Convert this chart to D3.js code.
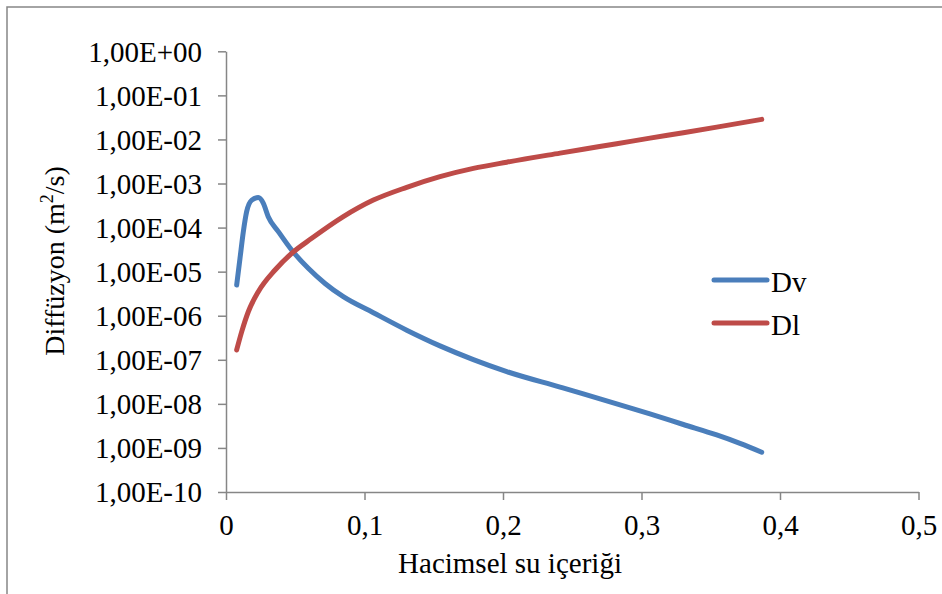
<!DOCTYPE html>
<html>
<head>
<meta charset="utf-8">
<script src="https://cdn.jsdelivr.net/npm/d3@7"></script>
<style>
  body { margin: 0; background: #fff; }
  text { font-family: "Liberation Serif", "Times New Roman", serif; fill: #000; }
</style>
</head>
<body>
<div id="chart-area"></div>
<script>
const SVG_WIDTH = 942;
const SVG_HEIGHT = 594;

// volumetric water content (x) and diffusion values (y)
const dvTheta = [0.0077, 0.0101, 0.0125, 0.0149, 0.0186, 0.0233, 0.0269, 0.0305, 0.0378, 0.0474, 0.0594, 0.0715, 0.0847, 0.1064, 0.1305, 0.1545, 0.1786, 0.2027, 0.2412, 0.2580, 0.2821, 0.3061, 0.3302, 0.3543, 0.3711, 0.3868];
const dvValues = [4.95e-6, 2.0e-5, 8.0e-5, 2.3e-4, 4.2e-4, 4.8e-4, 3.6e-4, 1.77e-4, 8.1e-5, 3.1e-5, 1.19e-5, 5.4e-6, 2.7e-6, 1.17e-6, 4.7e-7, 2.07e-7, 1.01e-7, 5.4e-8, 2.4e-8, 1.68e-8, 1.0e-8, 5.9e-9, 3.4e-9, 1.97e-9, 1.27e-9, 8.0e-10];

const dlTheta = [0.0077, 0.0113, 0.0161, 0.0233, 0.0354, 0.0474, 0.0619, 0.0847, 0.1064, 0.1305, 0.1545, 0.1786, 0.2027, 0.2412, 0.2580, 0.2821, 0.3061, 0.3302, 0.3543, 0.3868];
const dlValues = [1.67e-7, 4.3e-7, 1.23e-6, 3.5e-6, 1.09e-5, 2.6e-5, 5.7e-5, 1.77e-4, 4.2e-4, 8.2e-4, 1.43e-3, 2.2e-3, 3.05e-3, 4.9e-3, 6.0e-3, 8.0e-3, 1.07e-2, 1.42e-2, 1.9e-2, 2.85e-2];

const seriesNames = ["Dv", "Dl"];
const seriesColors = ["#4A7EBB", "#BE4B48"];

const xTicks = [0, 0.1, 0.2, 0.3, 0.4, 0.5];
const yTicks = [1e0, 1e-1, 1e-2, 1e-3, 1e-4, 1e-5, 1e-6, 1e-7, 1e-8, 1e-9, 1e-10];

const axisColor = "#868686";
const margin = { left: 226, right: 23.5, top: 51.3, bottom: 102 };
const width = SVG_WIDTH - margin.left - margin.right;
const height = SVG_HEIGHT - margin.top - margin.bottom;

const svg = d3.select("#chart-area").append("svg").attr("width", SVG_WIDTH).attr("height", SVG_HEIGHT);

// chart frame
svg.append("rect").attr("x", 7).attr("y", 7).attr("width", 1000).attr("height", 700).
    attr("fill", "none").attr("stroke", axisColor).attr("stroke-width", 1.5);

const group = svg.append("g").attr("transform", `translate(${margin.left},${margin.top})`);

const x = d3.scaleLinear().domain([0, 0.5]).range([0, width]);
const y = d3.scaleLog().domain([1e-10, 1]).range([height, 0]);

const fmtX = d => d === 0 ? "0" : d3.format(".1f")(d).replace(".", ",");
const fmtY = d => {
    const e = Math.round(Math.log10(d));
    return "1,00E" + (e >= 0 ? "+" : "-") + String(Math.abs(e)).padStart(2, "0");
};

const xAxisCall = d3.axisBottom(x).tickValues(xTicks).tickFormat(fmtX).tickSize(8).tickSizeOuter(0);
const yAxisCall = d3.axisLeft(y).tickValues(yTicks).tickFormat(fmtY).tickSize(8).tickSizeOuter(0);

const xAxis = group.append("g").attr("class", "x axis").
    attr("transform", `translate(0, ${height})`).
    call(xAxisCall);
xAxis.selectAll("text").attr("font-size", "29px").attr("y", 22).attr("dy", "0.71em").
    style("font-family", "Liberation Serif").attr("fill", "#000");

const yAxis = group.append("g").attr("class", "y axis").call(yAxisCall);
yAxis.selectAll("text").attr("font-size", "29px").attr("x", -24).attr("dy", "0.34em").
    style("font-family", "Liberation Serif").attr("fill", "#000");

[xAxis, yAxis].forEach(a => {
    a.select(".domain").attr("stroke", axisColor).attr("stroke-width", 1.5);
    a.selectAll(".tick line").attr("stroke", axisColor).attr("stroke-width", 1.5);
});

// series lines
const series = [
    { xs: dvTheta, ys: dvValues },
    { xs: dlTheta, ys: dlValues }
];
const line = d3.line().x(p => x(p[0])).y(p => y(p[1])).curve(d3.curveMonotoneX);

series.forEach((s, i) => {
    group.append("path").
        datum(s.xs.map((t, k) => [t, s.ys[k]])).
        attr("d", line).
        attr("fill", "none").
        attr("stroke", seriesColors[i]).
        attr("stroke-width", 5).
        attr("stroke-linecap", "round").
        attr("stroke-linejoin", "round");
});

// legend
const legend = svg.append("g").attr("transform", "translate(714, 280)");
seriesNames.forEach((name, i) => {
    const row = legend.append("g").attr("transform", `translate(0, ${i * 43})`);
    row.append("line").attr("x1", 0).attr("x2", 53).attr("y1", 0).attr("y2", 0).
        attr("stroke", seriesColors[i]).attr("stroke-width", 5).attr("stroke-linecap", "round");
    row.append("text").attr("x", 57).attr("y", 12).attr("font-size", "29px").text(name);
});

// axis titles
const yTitle = svg.append("text").
    attr("transform", `translate(64, 261) rotate(-90)`).
    attr("text-anchor", "middle").
    attr("font-size", "28px");
yTitle.append("tspan").text("Diffüzyon (m");
yTitle.append("tspan").attr("font-size", "18px").attr("dy", -11).text("2");
yTitle.append("tspan").attr("dy", 11).text("/s)");

svg.append("text").
    attr("x", 510).
    attr("y", 573).
    attr("text-anchor", "middle").
    attr("font-size", "29px").
    text("Hacimsel su içeriği");
</script>
</body>
</html>
